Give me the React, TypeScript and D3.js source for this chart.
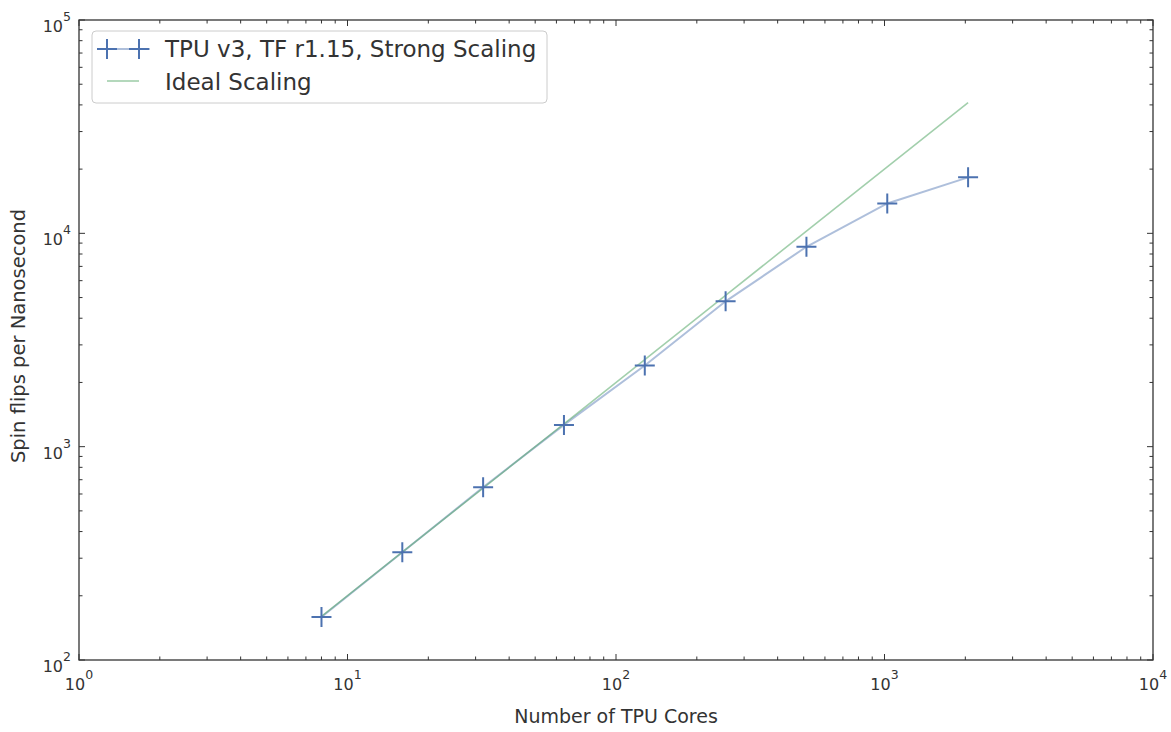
import { useEffect, useRef } from 'react';
import * as d3 from 'd3';

const cores = [8, 16, 32, 64, 128, 256, 512, 1024, 2048];
const measured = [159, 320, 645, 1265, 2400, 4800, 8650, 13800, 18300];
const ideal = [160, 320, 640, 1280, 2560, 5120, 10240, 20480, 40960];
const xExps = [0, 1, 2, 3, 4];
const yExps = [2, 3, 4, 5];
const legendLabels = ['TPU v3, TF r1.15, Strong Scaling', 'Ideal Scaling'];

const W = 1171, H = 732;
const M = { left: 79, right: 1153, top: 20, bottom: 660 };
const FONT = 'DejaVu Sans, sans-serif';

const App = () => {
  const ref = useRef<SVGSVGElement>(null);

  useEffect(() => {
    const svg = d3.select(ref.current);
    svg.selectAll('*').remove();

    const x = d3.scaleLog().domain([1, 1e4]).range([M.left, M.right]);
    const y = d3.scaleLog().domain([1e2, 1e5]).range([M.bottom, M.top]);

    const minors = (lo: number, hi: number) => {
      const out: number[] = [];
      for (let e = lo; e < hi; e++) for (let k = 2; k <= 9; k++) out.push(k * 10 ** e);
      return out;
    };
    const xMinor = minors(0, 4), yMinor = minors(2, 5);

    const g = svg.append('g');
    // frame
    g.append('rect').attr('x', M.left).attr('y', M.top)
      .attr('width', M.right - M.left).attr('height', M.bottom - M.top)
      .attr('fill', 'none').attr('stroke', '#333').attr('stroke-width', 1.3);

    const tickCol = '#333';
    xExps.forEach(e => {
      const px = x(10 ** e);
      g.append('line').attr('x1', px).attr('x2', px).attr('y1', M.bottom).attr('y2', M.bottom - 6).attr('stroke', tickCol);
      g.append('line').attr('x1', px).attr('x2', px).attr('y1', M.top).attr('y2', M.top + 6).attr('stroke', tickCol);
      const t = g.append('text').attr('x', px).attr('y', M.bottom + 30).attr('text-anchor', 'middle')
        .attr('font-family', FONT).attr('font-size', 16).attr('fill', '#333');
      t.append('tspan').text('10');
      t.append('tspan').attr('dy', -11).attr('font-size', 12.5).text(String(e));
    });
    xMinor.forEach(v => {
      const px = x(v);
      g.append('line').attr('x1', px).attr('x2', px).attr('y1', M.bottom).attr('y2', M.bottom - 3.5).attr('stroke', tickCol);
      g.append('line').attr('x1', px).attr('x2', px).attr('y1', M.top).attr('y2', M.top + 3.5).attr('stroke', tickCol);
    });
    yExps.forEach(e => {
      const py = y(10 ** e);
      g.append('line').attr('y1', py).attr('y2', py).attr('x1', M.left).attr('x2', M.left + 6).attr('stroke', tickCol);
      g.append('line').attr('y1', py).attr('y2', py).attr('x1', M.right).attr('x2', M.right - 6).attr('stroke', tickCol);
      const t = g.append('text').attr('x', M.left - 8).attr('y', py + 12).attr('text-anchor', 'end')
        .attr('font-family', FONT).attr('font-size', 16).attr('fill', '#333');
      t.append('tspan').text('10');
      t.append('tspan').attr('dy', -11).attr('font-size', 12.5).text(String(e));
    });
    yMinor.forEach(v => {
      const py = y(v);
      g.append('line').attr('y1', py).attr('y2', py).attr('x1', M.left).attr('x2', M.left + 3.5).attr('stroke', tickCol);
      g.append('line').attr('y1', py).attr('y2', py).attr('x1', M.right).attr('x2', M.right - 3.5).attr('stroke', tickCol);
    });

    // axis labels
    g.append('text').attr('x', 616).attr('y', 723).attr('text-anchor', 'middle')
      .attr('font-family', FONT).attr('font-size', 19).attr('fill', '#333').text('Number of TPU Cores');
    g.append('text').attr('transform', `translate(25,336) rotate(-90)`)
      .attr('text-anchor', 'middle').attr('font-family', FONT).attr('font-size', 19.5).attr('fill', '#333')
      .text('Spin flips per Nanosecond');

    const blue = '#4c72b0', green = '#55a868';
    const ln = d3.line<number>().x((_, i) => x(cores[i])).y(d => y(d));
    g.append('path').attr('d', ln(measured)).attr('fill', 'none').attr('stroke', blue)
      .attr('stroke-opacity', 0.45).attr('stroke-width', 2);
    g.append('path').attr('d', ln(ideal)).attr('fill', 'none').attr('stroke', green)
      .attr('stroke-opacity', 0.55).attr('stroke-width', 1.6);

    const cross = (cx: number, cy: number, s = 10) =>
      `M${cx - s},${cy}H${cx + s}M${cx},${cy - s}V${cy + s}`;
    measured.forEach((v, i) => {
      g.append('path').attr('d', cross(x(cores[i]), y(v))).attr('stroke', blue).attr('stroke-width', 2);
    });

    // legend
    const lg = g.append('g');
    lg.append('rect').attr('x', 92).attr('y', 31).attr('width', 455).attr('height', 72).attr('rx', 4)
      .attr('fill', 'white').attr('fill-opacity', 0.8).attr('stroke', '#ccc');
    lg.append('line').attr('x1', 98).attr('x2', 150).attr('y1', 49).attr('y2', 49).attr('stroke', blue)
      .attr('stroke-opacity', 0.45).attr('stroke-width', 2);
    lg.append('path').attr('d', cross(107, 49) + cross(139, 49)).attr('stroke', blue).attr('stroke-width', 2);
    lg.append('line').attr('x1', 107).attr('x2', 139).attr('y1', 81).attr('y2', 81).attr('stroke', green)
      .attr('stroke-opacity', 0.55).attr('stroke-width', 1.6);
    legendLabels.forEach((t, i) => {
      lg.append('text').attr('x', 165).attr('y', 57 + i * 33).attr('font-family', FONT).attr('font-size', 23)
        .attr('fill', '#333').text(t);
    });
  }, []);

  return <svg ref={ref} width={W} height={H} style={{ position: 'absolute', left: 0, top: 0 }} />;
};

export default App;
